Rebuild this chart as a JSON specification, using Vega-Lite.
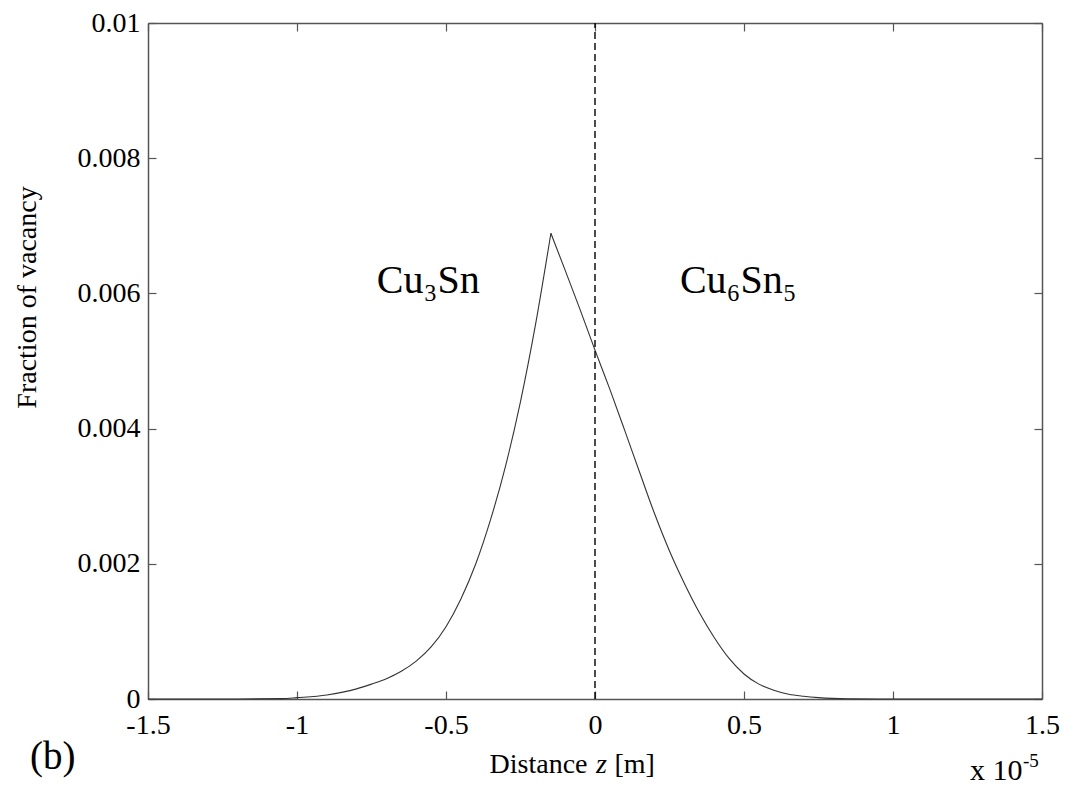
{
  "$schema": "https://vega.github.io/schema/vega-lite/v6.json",
  "width": 894,
  "height": 676,
  "autosize": "none",
  "padding": {"left": 148, "top": 23, "right": 23, "bottom": 88},
  "background": "white",
  "config": {
    "view": {"stroke": null},
    "font": "Liberation Serif",
    "axis": {
      "grid": false,
      "domainColor": "#555555",
      "domainWidth": 1.5,
      "tickColor": "#555555",
      "tickWidth": 1.2,
      "tickSize": -8,
      "labelFont": "Liberation Serif",
      "labelFontSize": 28,
      "labelColor": "black",
      "titleFont": "Liberation Serif",
      "titleFontWeight": "normal",
      "titleColor": "black"
    }
  },
  "layer": [
    {
      "data": {
        "values": [
          {"z": -1.5, "v": 0, "side": "left"},
          {"z": -1.2, "v": 0, "side": "left"},
          {"z": -1.05, "v": 0.000005, "side": "left"},
          {"z": -1.0, "v": 0.00002, "side": "left"},
          {"z": -0.9, "v": 0.00006, "side": "left"},
          {"z": -0.8, "v": 0.00015, "side": "left"},
          {"z": -0.75, "v": 0.00022, "side": "left"},
          {"z": -0.7, "v": 0.0003, "side": "left"},
          {"z": -0.65, "v": 0.00041, "side": "left"},
          {"z": -0.6, "v": 0.00056, "side": "left"},
          {"z": -0.55, "v": 0.00077, "side": "left"},
          {"z": -0.5, "v": 0.00107, "side": "left"},
          {"z": -0.45, "v": 0.00148, "side": "left"},
          {"z": -0.4, "v": 0.002, "side": "left"},
          {"z": -0.35, "v": 0.00266, "side": "left"},
          {"z": -0.3, "v": 0.00345, "side": "left"},
          {"z": -0.25, "v": 0.0044, "side": "left"},
          {"z": -0.2, "v": 0.00553, "side": "left"},
          {"z": -0.148, "v": 0.00689, "side": "left"},
          {"z": -0.148, "v": 0.00689, "side": "right"},
          {"z": -0.1, "v": 0.00634, "side": "right"},
          {"z": -0.05, "v": 0.00576, "side": "right"},
          {"z": 0.0, "v": 0.00516, "side": "right"},
          {"z": 0.05, "v": 0.00458, "side": "right"},
          {"z": 0.1, "v": 0.00397, "side": "right"},
          {"z": 0.15, "v": 0.00335, "side": "right"},
          {"z": 0.2, "v": 0.00274, "side": "right"},
          {"z": 0.25, "v": 0.00219, "side": "right"},
          {"z": 0.3, "v": 0.00171, "side": "right"},
          {"z": 0.35, "v": 0.00128, "side": "right"},
          {"z": 0.4, "v": 0.00091, "side": "right"},
          {"z": 0.45, "v": 0.0006, "side": "right"},
          {"z": 0.5, "v": 0.00037, "side": "right"},
          {"z": 0.55, "v": 0.00022, "side": "right"},
          {"z": 0.6, "v": 0.00013, "side": "right"},
          {"z": 0.65, "v": 0.00007, "side": "right"},
          {"z": 0.7, "v": 0.00004, "side": "right"},
          {"z": 0.75, "v": 0.00002, "side": "right"},
          {"z": 0.85, "v": 0.000003, "side": "right"},
          {"z": 0.95, "v": 0, "side": "right"},
          {"z": 1.5, "v": 0, "side": "right"}
        ]
      },
      "mark": {"type": "line", "interpolate": "monotone", "color": "#333333", "strokeWidth": 1.1},
      "encoding": {
        "x": {
          "field": "z", "type": "quantitative",
          "scale": {"domain": [-1.5, 1.5], "nice": false, "zero": false},
          "axis": {
            "orient": "bottom",
            "values": [-1.5, -1, -0.5, 0, 0.5, 1, 1.5],
            "labelExpr": "datum.value + ''",
            "labelPadding": 20,
            "labelFlush": false,
            "labelOverlap": false,
            "title": null
          }
        },
        "y": {
          "field": "v", "type": "quantitative",
          "scale": {"domain": [0, 0.01], "nice": false},
          "axis": {
            "orient": "left",
            "values": [0, 0.002, 0.004, 0.006, 0.008, 0.01],
            "labelExpr": "datum.value + ''",
            "labelPadding": 16,
            "labelFlush": false,
            "labelOverlap": false,
            "title": "Fraction of vacancy",
            "titleFontSize": 28,
            "titleAngle": -90,
            "titleX": -121,
            "titleY": 274,
            "titleAlign": "center",
            "titleBaseline": "middle"
          }
        },
        "detail": {"field": "side", "type": "nominal"}
      }
    },
    {
      "data": {"values": [{"z": 0}]},
      "mark": {"type": "rule", "color": "black", "strokeWidth": 1.4, "strokeDash": [7, 4]},
      "encoding": {
        "x": {
          "field": "z", "type": "quantitative",
          "scale": {"domain": [-1.5, 1.5], "nice": false, "zero": false},
          "axis": {
            "orient": "top",
            "values": [-1.5, -1, -0.5, 0, 0.5, 1, 1.5],
            "labels": false,
            "title": null
          }
        },
        "y": {
          "datum": 0, "type": "quantitative",
          "scale": {"domain": [0, 0.01], "nice": false},
          "axis": {
            "orient": "right",
            "values": [0, 0.002, 0.004, 0.006, 0.008, 0.01],
            "labels": false,
            "title": null
          }
        },
        "y2": {"datum": 0.01}
      }
    },
    {
      "data": {
        "values": [
          {"z": -0.732, "v": 0.006, "label": "Cu₃Sn"},
          {"z": 0.285, "v": 0.006, "label": "Cu₆Sn₅"}
        ]
      },
      "mark": {"type": "text", "font": "Liberation Serif", "fontSize": 40, "align": "left", "baseline": "alphabetic", "color": "black"},
      "encoding": {
        "x": {"field": "z", "type": "quantitative", "scale": {"domain": [-1.5, 1.5], "nice": false, "zero": false}, "axis": null},
        "y": {"field": "v", "type": "quantitative", "scale": {"domain": [0, 0.01], "nice": false}, "axis": null},
        "text": {"field": "label"}
      }
    },
    {
      "data": {"values": [{"z": -1.896, "v": -0.00104, "label": "(b)"}]},
      "mark": {"type": "text", "font": "Liberation Serif", "fontSize": 39, "align": "left", "baseline": "alphabetic", "color": "black"},
      "encoding": {
        "x": {"field": "z", "type": "quantitative", "scale": {"domain": [-1.5, 1.5], "nice": false, "zero": false}, "axis": null},
        "y": {"field": "v", "type": "quantitative", "scale": {"domain": [0, 0.01], "nice": false}, "axis": null},
        "text": {"field": "label"}
      }
    },
    {
      "data": {"values": [{"z": 1.258, "v": -0.0012, "label": "x 10"}]},
      "mark": {"type": "text", "font": "Liberation Serif", "fontSize": 30, "align": "left", "baseline": "alphabetic", "color": "black"},
      "encoding": {
        "x": {"field": "z", "type": "quantitative", "scale": {"domain": [-1.5, 1.5], "nice": false, "zero": false}, "axis": null},
        "y": {"field": "v", "type": "quantitative", "scale": {"domain": [0, 0.01], "nice": false}, "axis": null},
        "text": {"field": "label"}
      }
    },
    {
      "data": {"values": [{"z": 1.436, "v": -0.00101, "label": "-5"}]},
      "mark": {"type": "text", "font": "Liberation Serif", "fontSize": 19, "align": "left", "baseline": "alphabetic", "color": "black"},
      "encoding": {
        "x": {"field": "z", "type": "quantitative", "scale": {"domain": [-1.5, 1.5], "nice": false, "zero": false}, "axis": null},
        "y": {"field": "v", "type": "quantitative", "scale": {"domain": [0, 0.01], "nice": false}, "axis": null},
        "text": {"field": "label"}
      }
    },
    {
      "data": {"values": [{"z": 0.0218, "v": -0.001095, "label": "Distance"}]},
      "mark": {"type": "text", "font": "Liberation Serif", "fontSize": 28, "align": "right", "baseline": "alphabetic", "dx": -14, "color": "black"},
      "encoding": {
        "x": {"field": "z", "type": "quantitative", "scale": {"domain": [-1.5, 1.5], "nice": false, "zero": false}, "axis": null},
        "y": {"field": "v", "type": "quantitative", "scale": {"domain": [0, 0.01], "nice": false}, "axis": null},
        "text": {"field": "label"}
      }
    },
    {
      "data": {"values": [{"z": 0.0218, "v": -0.001095, "label": "z"}]},
      "mark": {"type": "text", "font": "Liberation Serif", "fontSize": 28, "fontStyle": "italic", "align": "center", "baseline": "alphabetic", "color": "black"},
      "encoding": {
        "x": {"field": "z", "type": "quantitative", "scale": {"domain": [-1.5, 1.5], "nice": false, "zero": false}, "axis": null},
        "y": {"field": "v", "type": "quantitative", "scale": {"domain": [0, 0.01], "nice": false}, "axis": null},
        "text": {"field": "label"}
      }
    },
    {
      "data": {"values": [{"z": 0.0218, "v": -0.001095, "label": "[m]"}]},
      "mark": {"type": "text", "font": "Liberation Serif", "fontSize": 28, "align": "left", "baseline": "alphabetic", "dx": 13, "color": "black"},
      "encoding": {
        "x": {"field": "z", "type": "quantitative", "scale": {"domain": [-1.5, 1.5], "nice": false, "zero": false}, "axis": null},
        "y": {"field": "v", "type": "quantitative", "scale": {"domain": [0, 0.01], "nice": false}, "axis": null},
        "text": {"field": "label"}
      }
    }
  ],
  "resolve": {"axis": {"x": "independent", "y": "independent"}}
}
